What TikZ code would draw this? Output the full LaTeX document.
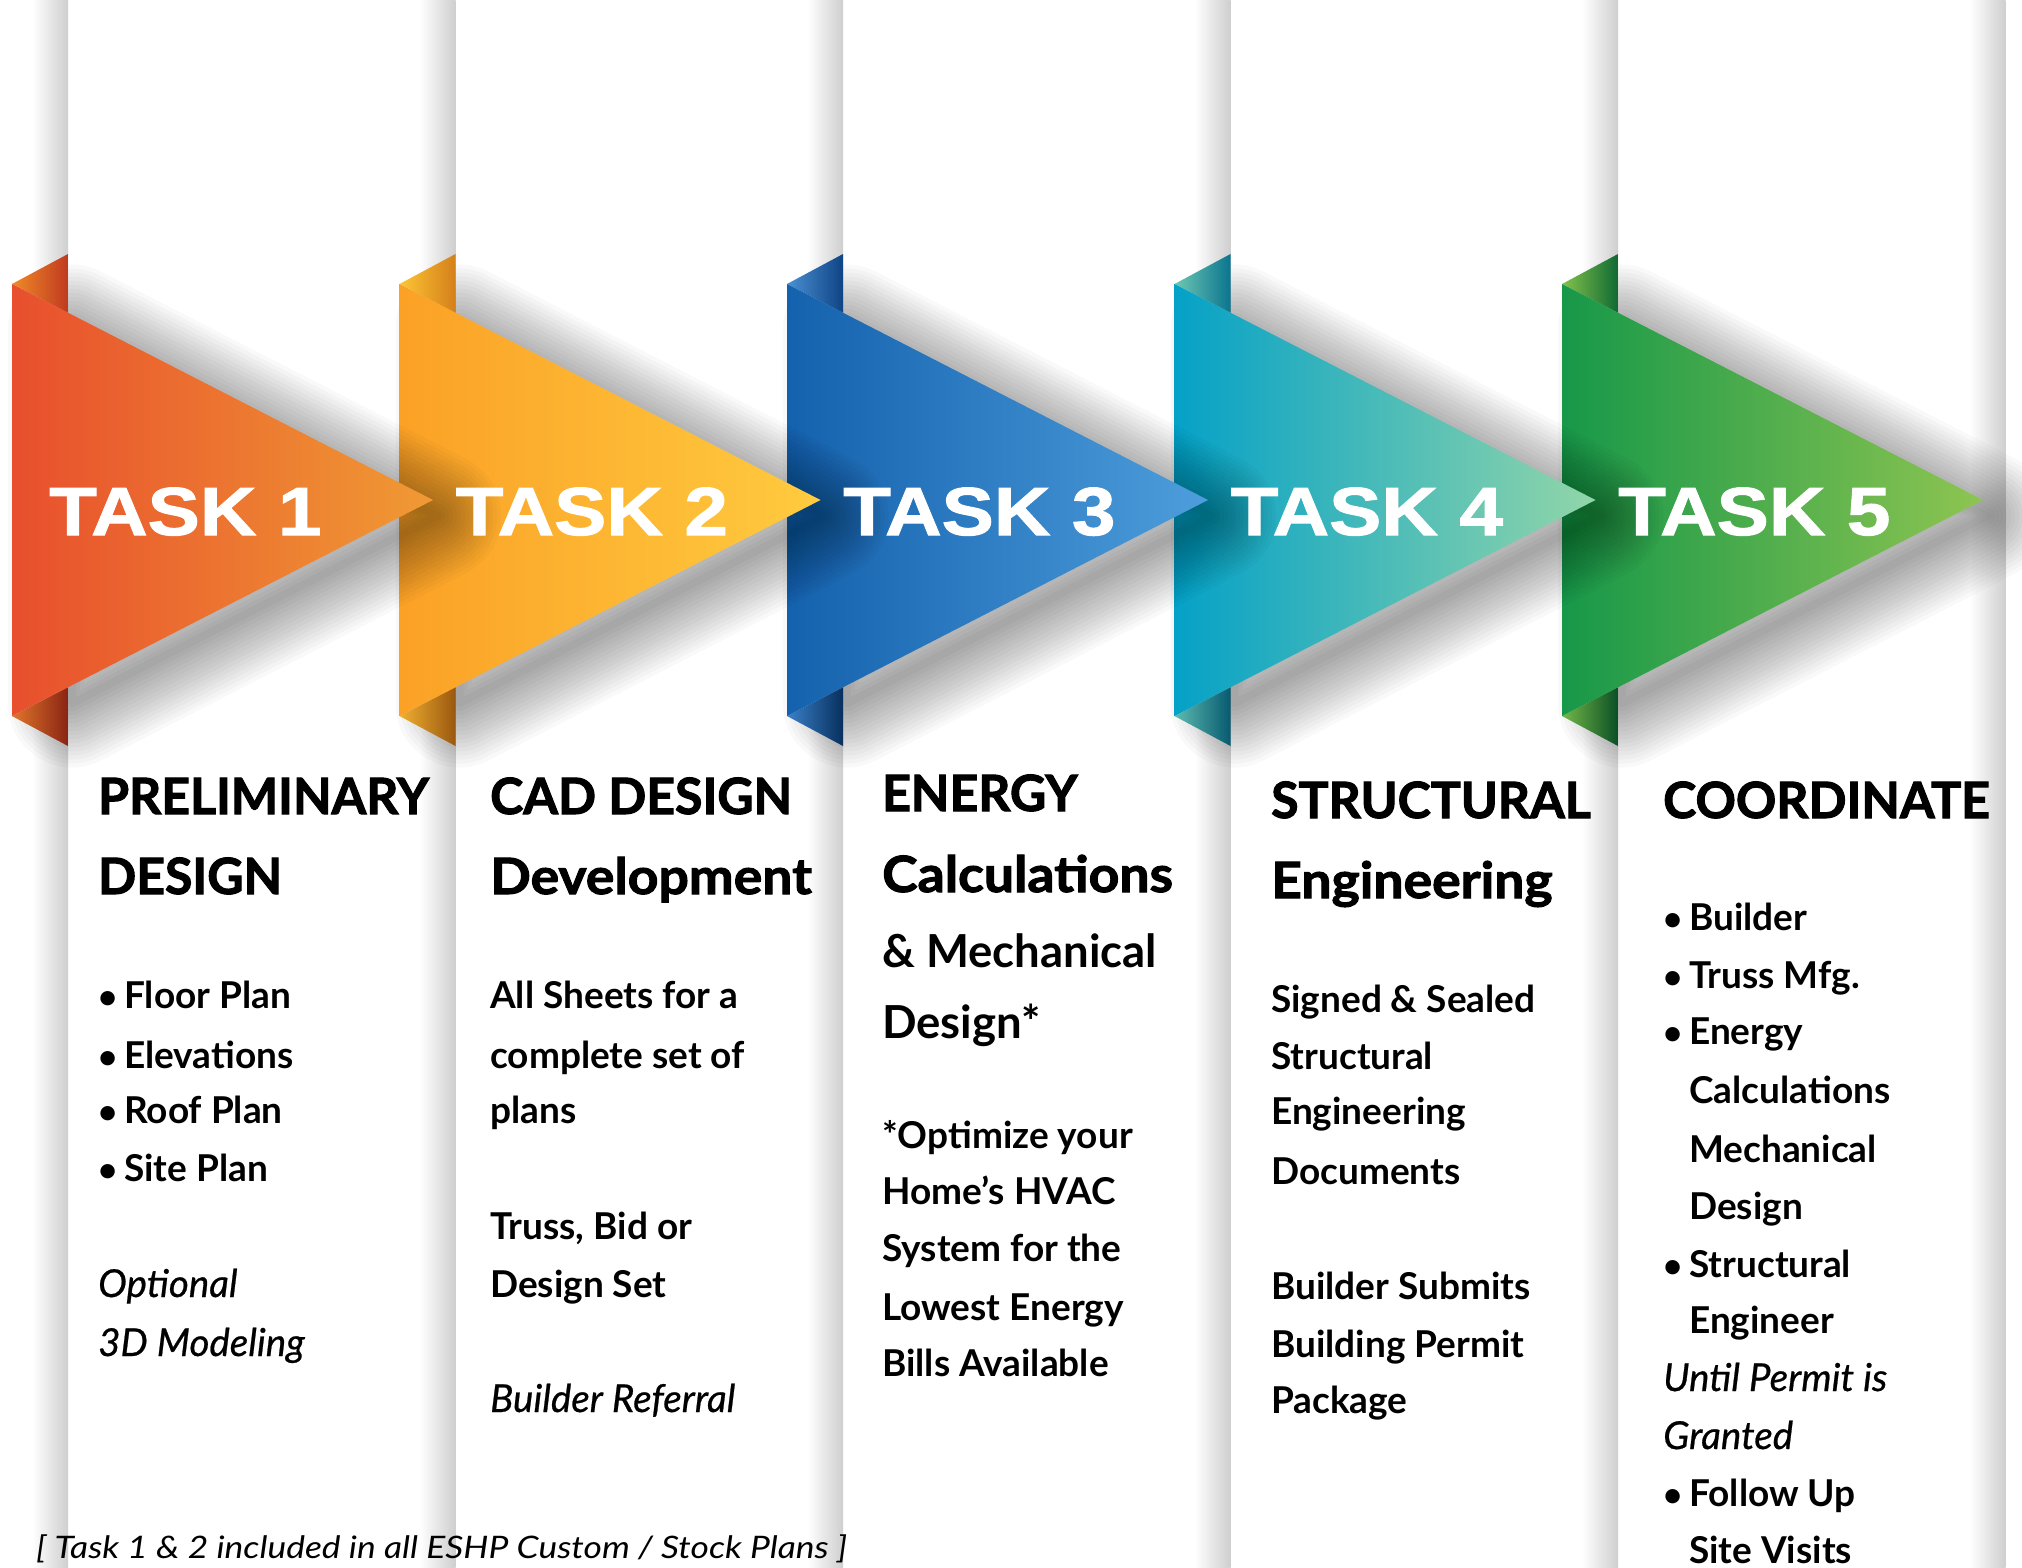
\documentclass[tikz,border=0pt]{standalone}
\usepackage{fontspec}
\usepackage{graphicx}
\setmainfont{Lato}
\newfontfamily\taskfont{Liberation Sans}[FakeStretch=1.15,FakeBold=1.5]
\newfontfamily\headfont{Lato}[FakeBold=2]
\newfontfamily\headfontw{Lato}[FakeBold=2,FakeStretch=1.07]
\newfontfamily\bodyfont{Lato}
\newfontfamily\italfont{Lato}[FakeBold=0.6]
\definecolor{AoneL}{HTML}{E84F2D}\definecolor{AoneR}{HTML}{F09A34}
\definecolor{AtwoL}{HTML}{FBA126}\definecolor{AtwoR}{HTML}{FFCB3F}
\definecolor{AthrL}{HTML}{1461AD}\definecolor{AthrR}{HTML}{4E9EDC}
\definecolor{AfouL}{HTML}{05A1C7}\definecolor{AfouR}{HTML}{92D6A9}
\definecolor{AfivL}{HTML}{179849}\definecolor{AfivR}{HTML}{8EC551}
\definecolor{FoneTL}{HTML}{F08A28}\definecolor{FoneTR}{HTML}{C03A20}
\definecolor{FoneBL}{HTML}{E0762A}\definecolor{FoneBR}{HTML}{8A2414}
\definecolor{FtwoTL}{HTML}{FDC535}\definecolor{FtwoTR}{HTML}{D5801A}
\definecolor{FtwoBL}{HTML}{F0B030}\definecolor{FtwoBR}{HTML}{9A5810}
\definecolor{FthrTL}{HTML}{4A90D2}\definecolor{FthrTR}{HTML}{0F4486}
\definecolor{FthrBL}{HTML}{3A80C8}\definecolor{FthrBR}{HTML}{08305E}
\definecolor{FfouTL}{HTML}{6EC8B2}\definecolor{FfouTR}{HTML}{0B7590}
\definecolor{FfouBL}{HTML}{5EBCB0}\definecolor{FfouBR}{HTML}{075A70}
\definecolor{FfivTL}{HTML}{84C24C}\definecolor{FfivTR}{HTML}{0F6A33}
\definecolor{FfivBL}{HTML}{74B848}\definecolor{FfivBR}{HTML}{0A4F25}
\begin{document}
\begin{tikzpicture}[x=1pt,y=-1pt,
  task/.style={anchor=base west,inner sep=0pt,text=white,font=\taskfont\bfseries\fontsize{68}{68}\selectfont},
  head/.style={anchor=base west,inner sep=0pt,text=black,font=\headfont\bfseries\fontsize{50}{50}\selectfont},
  headw/.style={anchor=base west,inner sep=0pt,text=black,font=\headfontw\bfseries\fontsize{50}{50}\selectfont},
  sub/.style={anchor=base west,inner sep=0pt,text=black,font=\bodyfont\bfseries\fontsize{45.5}{45.5}\selectfont},
  body/.style={anchor=base west,inner sep=0pt,text=black,font=\bodyfont\bfseries\fontsize{37}{37}\selectfont},
  bul/.style={anchor=base west,inner sep=0pt,text=black,font=\bodyfont\bfseries\fontsize{33}{33}\selectfont},
  ital/.style={anchor=base west,inner sep=0pt,text=black,font=\italfont\itshape\fontsize{38.5}{38.5}\selectfont},
  note/.style={anchor=base west,inner sep=0pt,text=black,font=\bodyfont\itshape\fontsize{31}{31}\selectfont}]
\useasboundingbox (0,0) rectangle (2022,1567);
\fill[white] (0,0) rectangle (2022,1567);
% column edge shadows
\foreach \e in {68,455.5,843,1230.5,1618,2005.5}{
  \shade[left color=white,right color=black!19] (\e-36,0) rectangle (\e,1567);
}
% arrows, drawn from the last to the first
\foreach \k/\al/\ar/\ftl/\ftr/\fbl/\fbr in {
  4/AfivL/AfivR/FfivTL/FfivTR/FfivBL/FfivBR,
  3/AfouL/AfouR/FfouTL/FfouTR/FfouBL/FfouBR,
  2/AthrL/AthrR/FthrTL/FthrTR/FthrBL/FthrBR,
  1/AtwoL/AtwoR/FtwoTL/FtwoTR/FtwoBL/FtwoBR,
  0/AoneL/AoneR/FoneTL/FoneTR/FoneBL/FoneBR}{
  \pgfmathsetmacro\L{12+387.5*\k}
  \pgfmathsetmacro\C{68+387.5*\k}
  \pgfmathsetmacro\T{433+387.5*\k}
  \foreach \r in {4,8,...,64}{
    \draw[black,opacity=0.022,line width=2*\r,line join=round,shift={(4,16)}]
      (\C,312.7) -- (\C,687.3) -- (\T,500) -- cycle;
  }
  \shade[left color=\ftl,right color=\ftr] (\L,284) -- (\C,254) -- (\C,312.7) -- cycle;
  \shade[left color=\fbl,right color=\fbr] (\L,716) -- (\C,746) -- (\C,687.3) -- cycle;
  \shade[left color=\al,right color=\ar] (\L,284) -- (\L,716) -- (\T,500) -- cycle;
}
% task labels
\node[task] (t1) at (49,535) {TASK 1};
\node[task] (t2) at (455.5,535) {TASK 2};
\node[task] (t3) at (843,535) {TASK 3};
\node[task] (t4) at (1230.5,535) {TASK 4};
\node[task] (t5) at (1618,535) {TASK 5};
% column 1
\node[head] (c1h1) at (98,814) {PRELIMINARY};
\node[head] (c1h2) at (98,894) {DESIGN};
\node[bul] (c1d1) at (98,1008) {•};
\node[body] (c1b1) at (124,1008) {Floor Plan};
\node[bul] (c1d2) at (98,1068) {•};
\node[body] (c1b2) at (124,1068) {Elevations};
\node[bul] (c1d3) at (98,1123) {•};
\node[body] (c1b3) at (124,1123) {Roof Plan};
\node[bul] (c1d4) at (98,1181) {•};
\node[body] (c1b4) at (124,1181) {Site Plan};
\node[ital] (c1i1) at (98,1297) {Optional};
\node[ital] (c1i2) at (98,1356) {3D Modeling};
% column 2
\node[head] (c2h1) at (490,814) {CAD DESIGN};
\node[headw] (c2h2) at (490,894) {Development};
\node[body] (c2b1) at (490,1008) {All Sheets for a};
\node[body] (c2b2) at (490,1068) {complete set of};
\node[body] (c2b3) at (490,1123) {plans};
\node[body] (c2b4) at (490,1239) {Truss, Bid or};
\node[body] (c2b5) at (490,1297) {Design Set};
\node[ital] (c2i1) at (490,1412) {Builder Referral};
% column 3
\node[head] (c3h1) at (882,811) {ENERGY};
\node[headw] (c3h2) at (882,892) {Calculations};
\node[sub] (c3s1) at (882,967) {\& Mechanical};
\node[sub] (c3s2) at (882,1038) {Design*};
\node[body] (c3b1) at (882,1148) {*Optimize your};
\node[body] (c3b2) at (882,1204) {Home’s HVAC};
\node[body] (c3b3) at (882,1261) {System for the};
\node[body] (c3b4) at (882,1320) {Lowest Energy};
\node[body] (c3b5) at (882,1376) {Bills Available};
% column 4
\node[head] (c4h1) at (1271,818) {STRUCTURAL};
\node[headw] (c4h2) at (1271,898) {Engineering};
\node[body] (c4b1) at (1271,1012) {Signed \& Sealed};
\node[body] (c4b2) at (1271,1069) {Structural};
\node[body] (c4b3) at (1271,1124) {Engineering};
\node[body] (c4b4) at (1271,1184) {Documents};
\node[body] (c4b5) at (1271,1299) {Builder Submits};
\node[body] (c4b6) at (1271,1357) {Building Permit};
\node[body] (c4b7) at (1271,1413) {Package};
% column 5
\node[head] (c5h1) at (1663,818) {COORDINATE};
\node[bul] (c5d1) at (1663,930) {•};
\node[body] (c5b1) at (1689,930) {Builder};
\node[bul] (c5d2) at (1663,988) {•};
\node[body] (c5b2) at (1689,988) {Truss Mfg.};
\node[bul] (c5d3) at (1663,1044) {•};
\node[body] (c5b3) at (1689,1044) {Energy};
\node[body] (c5b4) at (1689,1103) {Calculations};
\node[body] (c5b5) at (1689,1162) {Mechanical};
\node[body] (c5b6) at (1689,1219) {Design};
\node[bul] (c5d4) at (1663,1277) {•};
\node[body] (c5b7) at (1689,1277) {Structural};
\node[body] (c5b8) at (1689,1333) {Engineer};
\node[ital] (c5i1) at (1663,1391) {Until Permit is};
\node[ital] (c5i2) at (1663,1449) {Granted};
\node[bul] (c5d5) at (1663,1506) {•};
\node[body] (c5b9) at (1689,1506) {Follow Up};
\node[body] (c5b10) at (1689,1563) {Site Visits};
% note
\node[note] (note) at (36,1558) {\resizebox{811pt}{\height}{[ Task 1 \& 2 included in all ESHP Custom / Stock Plans ]}};
\end{tikzpicture}
\end{document}
